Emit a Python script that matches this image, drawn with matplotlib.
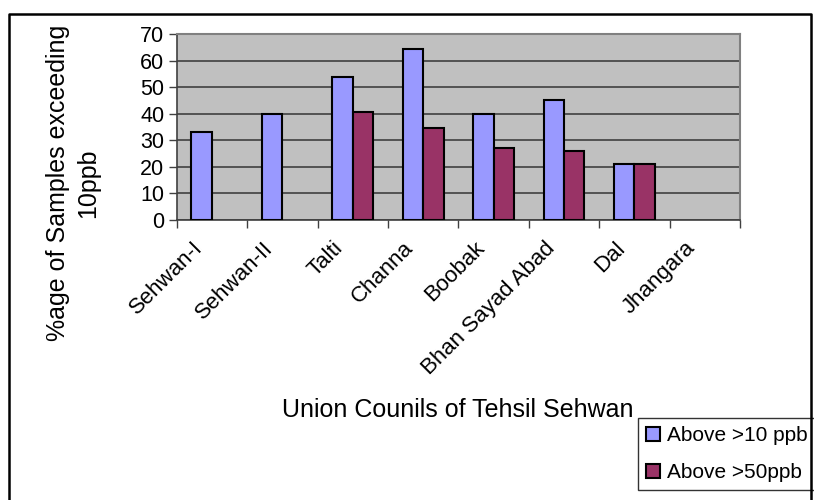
import matplotlib.pyplot as plt
import numpy as np
from matplotlib.lines import Line2D
from matplotlib.transforms import ScaledTranslation

plt.rcParams["font.family"] = ["Liberation Sans", "DejaVu Sans"]

COUNCILS = ["Sehwan-I", "Sehwan-II", "Talti", "Channa", "Boobak",
            "Bhan Sayad Abad", "Dal", "Jhangara"]
ABOVE_10 = [33, 40, 54, 64.5, 40, 45, 21, 0]
ABOVE_50 = [0, 0, 40.5, 34.5, 27, 26, 21, 0]
SERIES_NAMES = ["Above >10 ppb", "Above >50ppb"]
Y_TICKS = [0, 10, 20, 30, 40, 50, 60, 70]

BLUE = "#9999FF"
PLUM = "#993366"


def edges(values):
    return ["black" if v > 0 else "none" for v in values]


fig = plt.figure(figsize=(8.14, 5.0), dpi=100)
ax = fig.add_axes([176.7 / 814, 1 - 220 / 500, (740 - 176.7) / 814, 186 / 500])
ax.set_facecolor("#C0C0C0")

x = np.arange(len(COUNCILS))
w = 0.29
b1 = ax.bar(x - w / 2, ABOVE_10, w, color=BLUE, edgecolor=edges(ABOVE_10),
            linewidth=1.5, label=SERIES_NAMES[0], zorder=3)
b2 = ax.bar(x + w / 2, ABOVE_50, w, color=PLUM, edgecolor=edges(ABOVE_50),
            linewidth=1.5, label=SERIES_NAMES[1], zorder=3)

ax.set_xlim(-0.5, len(COUNCILS) - 0.5)
ax.set_ylim(0, 70)
ax.set_yticks(Y_TICKS)
ax.yaxis.grid(True, color="#404040", lw=1.2, zorder=1)
ax.set_axisbelow(True)

ax.set_xticks(np.arange(len(COUNCILS) + 1) - 0.5)
ax.set_xticklabels([])
ax.set_xticks(x, minor=True)
ax.set_xticklabels(COUNCILS, minor=True, rotation=45, ha="right",
                   va="center", rotation_mode="anchor", fontsize=16)
ax.tick_params(axis="x", which="minor", length=0, pad=12)
ax.tick_params(axis="x", which="major", length=6, width=1, color="#404040",
               direction="out")
ax.tick_params(axis="y", length=6, width=1, color="#404040", labelsize=15.5,
               pad=3)

# nudge the slanted labels down-left like the source
shift = ScaledTranslation(-9 / 72, -6 / 72, fig.dpi_scale_trans)
for lbl in ax.get_xticklabels(minor=True):
    lbl.set_transform(lbl.get_transform() + shift)

for side in ["top", "right"]:
    ax.spines[side].set_color("#808080")
    ax.spines[side].set_linewidth(1.5)
for side in ["left", "bottom"]:
    ax.spines[side].set_color("#404040")
    ax.spines[side].set_linewidth(1.2)

fig.text(73 / 814, 1 - 183 / 500, "%age of Samples exceeding\n10ppb",
         rotation=90, ha="center", va="center", fontsize=18,
         multialignment="center", linespacing=1.3)
fig.text(458 / 814, 1 - 410 / 500, "Union Counils of Tehsil Sehwan",
         ha="center", va="center", fontsize=18)

leg = fig.legend(handles=[b1, b2], labels=SERIES_NAMES,
                 loc="upper left", bbox_to_anchor=(638 / 814, 1 - 418 / 500),
                 fontsize=15, frameon=True, fancybox=False,
                 handlelength=0.65, handleheight=0.65, handletextpad=0.35,
                 labelspacing=0.85, borderpad=0.4, borderaxespad=0)
leg.get_frame().set_edgecolor("black")
leg.get_frame().set_linewidth(1.0)
for h in leg.legend_handles:
    h.set_edgecolor("black")

# outer chart border (open at the bottom, as in the source)
fx0, fx1, fy1 = 8.5 / 814, 811 / 814, 1 - 14 / 500
fig.add_artist(Line2D([fx0, fx0, fx1, fx1], [0, fy1, fy1, 0], color="black",
                      lw=1.8, transform=fig.transFigure, zorder=10))

fig.savefig("out.png", dpi=100)
